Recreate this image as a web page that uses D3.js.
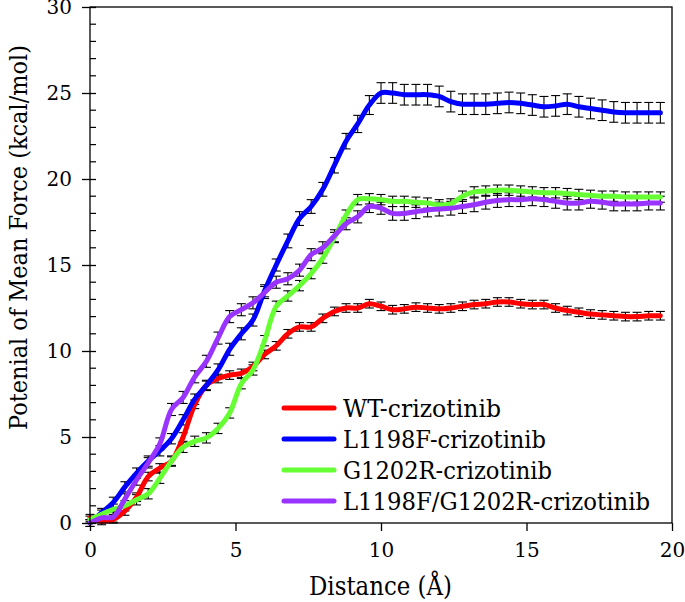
<!DOCTYPE html>
<html><head><meta charset="utf-8">
<script src="https://cdn.jsdelivr.net/npm/d3@7"></script>
<style>body{margin:0;background:#fff}svg{display:block}</style>
</head><body><svg id="c" width="685" height="602"></svg>
<script>
const distance = [0,0.4,0.8,1.2,1.6,2.0,2.4,2.8,3.2,3.6,4.0,4.4,4.8,5.2,5.6,6.0,6.4,6.8,7.2,7.6,8.0,8.4,8.8,9.2,9.6,10.0,10.4,10.8,11.2,11.6,12.0,12.4,12.8,13.2,13.6,14.0,14.4,14.8,15.2,15.6,16.0,16.4,16.8,17.2,17.6,18.0,18.4,18.8,19.2,19.6];
const seriesNames = ["WT-crizotinib","L1198F-crizotinib","G1202R-crizotinib","L1198F/G1202R-crizotinib"];
const seriesColors = ["#ff0000","#0000ff","#66ff33","#9933ff"];
const wt = [0.3,0.1,0.2,0.7,1.5,2.7,3.2,3.6,5.0,6.9,8.0,8.4,8.6,8.7,9.1,9.8,10.3,11.0,11.4,11.4,11.9,12.3,12.5,12.5,12.75,12.6,12.4,12.45,12.55,12.5,12.45,12.5,12.6,12.7,12.75,12.85,12.85,12.75,12.7,12.7,12.5,12.35,12.25,12.15,12.1,12.05,12.0,12.0,12.05,12.05];
const l1198f = [0.0,0.6,1.2,2.1,2.9,3.6,4.2,4.9,6.0,7.2,8.0,8.9,10.1,11.0,11.8,13.5,15.0,16.4,17.7,18.4,19.4,20.8,22.2,23.2,24.3,25.0,25.0,24.9,24.9,24.9,24.8,24.5,24.35,24.35,24.35,24.4,24.45,24.4,24.3,24.2,24.25,24.35,24.2,24.1,24.0,23.9,23.85,23.85,23.85,23.85];
const g1202r = [0.2,0.5,0.8,1.0,1.35,1.7,2.6,3.6,4.4,4.75,4.95,5.5,6.4,8.1,8.9,10.6,12.6,13.2,13.8,14.5,15.4,16.6,17.9,18.8,18.85,18.8,18.7,18.7,18.65,18.6,18.5,18.55,19.0,19.25,19.3,19.35,19.35,19.3,19.25,19.2,19.2,19.15,19.1,19.05,19.0,19.0,18.95,18.95,18.95,18.95];
const double = [0.0,0.3,0.35,1.4,2.5,3.5,4.6,6.6,7.3,8.5,9.4,10.75,12.0,12.4,12.8,13.4,14.0,14.2,14.7,15.6,16.0,16.7,17.4,17.8,18.4,18.3,18.0,18.0,18.1,18.2,18.25,18.3,18.4,18.5,18.65,18.75,18.8,18.8,18.85,18.8,18.7,18.6,18.6,18.7,18.65,18.55,18.55,18.55,18.6,18.6];
const wtErr = [0.2,0.2,0.2,0.25,0.25,0.25,0.25,0.25,0.25,0.25,0.25,0.25,0.25,0.25,0.25,0.25,0.25,0.25,0.25,0.25,0.25,0.25,0.25,0.25,0.25,0.25,0.25,0.25,0.25,0.25,0.25,0.25,0.25,0.25,0.25,0.25,0.25,0.25,0.25,0.25,0.25,0.25,0.25,0.25,0.25,0.25,0.25,0.25,0.25,0.25];
const l1198fErr = [0.2,0.25,0.3,0.3,0.3,0.3,0.3,0.3,0.3,0.3,0.3,0.35,0.35,0.35,0.35,0.35,0.35,0.4,0.4,0.4,0.4,0.45,0.45,0.5,0.55,0.6,0.6,0.6,0.6,0.6,0.6,0.6,0.6,0.6,0.6,0.6,0.6,0.6,0.6,0.6,0.6,0.6,0.6,0.6,0.6,0.6,0.6,0.6,0.6,0.6];
const g1202rErr = [0.2,0.25,0.3,0.3,0.3,0.3,0.3,0.3,0.3,0.3,0.3,0.3,0.3,0.3,0.3,0.3,0.3,0.3,0.3,0.3,0.3,0.3,0.3,0.3,0.3,0.3,0.3,0.3,0.3,0.3,0.3,0.3,0.3,0.3,0.3,0.3,0.3,0.3,0.3,0.3,0.3,0.3,0.3,0.3,0.3,0.3,0.3,0.3,0.3,0.3];
const doubleErr = [0.2,0.25,0.3,0.3,0.3,0.3,0.35,0.35,0.35,0.35,0.35,0.35,0.35,0.35,0.35,0.35,0.35,0.35,0.35,0.35,0.35,0.35,0.35,0.35,0.35,0.35,0.4,0.4,0.4,0.4,0.4,0.4,0.4,0.4,0.4,0.4,0.4,0.4,0.4,0.4,0.4,0.4,0.4,0.4,0.4,0.4,0.4,0.4,0.4,0.4];
const xTicks = [0,5,10,15,20];
const yTicks = [0,5,10,15,20,25,30];
const yMinorTicks = [1,2,3,4,6,7,8,9,11,12,13,14,16,17,18,19,21,22,23,24,26,27,28,29];
const xTitle = "Distance (Å)";
const yTitle = "Potenial of Mean Force (kcal/mol)";

const values = [wt, l1198f, g1202r, double];
const errors = [wtErr, l1198fErr, g1202rErr, doubleErr];
const FONT = "DejaVu Serif";
const legendWidths = [158, 203, 209, 307];

const svg = d3.select("#c");
const L = 90, R = 672, T = 7, B = 523;
const x = d3.scaleLinear().domain([0,20]).range([L,R]);
const y = d3.scaleLinear().domain([0,30]).range([B,T]);

const eb = svg.append("g").attr("stroke","#000").attr("stroke-width",1.1).attr("fill","none");
values.forEach((vals, s) => {
  vals.forEach((v, i) => {
    const d = distance[i], e = errors[s][i];
    const cx = x(d);
    eb.append("line").attr("x1",cx).attr("x2",cx).attr("y1",y(v-e)).attr("y2",y(v+e));
    eb.append("line").attr("x1",cx-4.5).attr("x2",cx+4.5).attr("y1",y(v-e)).attr("y2",y(v-e));
    eb.append("line").attr("x1",cx-4.5).attr("x2",cx+4.5).attr("y1",y(v+e)).attr("y2",y(v+e));
  });
});

const line = d3.line().x((d,i)=>x(distance[i])).y(d=>y(d)).curve(d3.curveCatmullRom.alpha(0.5));
values.forEach((vals, s) => {
  svg.append("path").datum(vals).attr("d", line).attr("fill","none")
    .attr("stroke", seriesColors[s]).attr("stroke-width",5).attr("stroke-linejoin","round").attr("stroke-linecap","round");
});

svg.append("rect").attr("x",L).attr("y",T).attr("width",R-L).attr("height",B-T)
  .attr("fill","none").attr("stroke","#000").attr("stroke-width",1.3);

const yAxis = svg.append("g").attr("transform",`translate(${L},0)`)
  .call(d3.axisLeft(y).tickValues(yTicks).tickSize(8).tickPadding(10).tickFormat(d3.format("d")));
yAxis.attr("font-family", FONT);
yAxis.select(".domain").remove();
yAxis.selectAll(".tick line").attr("x2",-8).attr("x1",6).attr("stroke-width",1.3);
yAxis.selectAll(".tick text").attr("font-size",20).attr("x",-18);
svg.append("g").selectAll("line").data(yMinorTicks).join("line")
  .attr("x1",L).attr("x2",L+6).attr("y1",d=>y(d)).attr("y2",d=>y(d)).attr("stroke","#000").attr("stroke-width",1.2);

const xAxis = svg.append("g").attr("transform",`translate(0,${B})`)
  .call(d3.axisBottom(x).tickValues(xTicks).tickSize(8).tickPadding(12).tickFormat(d3.format("d")));
xAxis.attr("font-family", FONT);
xAxis.select(".domain").remove();
xAxis.selectAll(".tick line").attr("stroke-width",1.3);
xAxis.selectAll(".tick text").attr("font-size",20);

svg.append("text").attr("x",309).attr("y",595).attr("font-size",26).attr("font-family",FONT)
  .attr("textLength",143).attr("lengthAdjust","spacingAndGlyphs").text(xTitle);
svg.append("text").attr("transform","translate(27,430) rotate(-90)").attr("font-size",25).attr("font-family",FONT)
  .attr("textLength",385).attr("lengthAdjust","spacingAndGlyphs").text(yTitle);

const lg = svg.append("g");
seriesNames.forEach((n, i) => {
  const yy = 408 + i*31;
  lg.append("line").attr("x1",284).attr("x2",334).attr("y1",yy).attr("y2",yy)
    .attr("stroke",seriesColors[i]).attr("stroke-width",5).attr("stroke-linecap","round");
  lg.append("text").attr("x",343).attr("y",yy+9).attr("font-size",25).attr("font-family",FONT)
    .attr("textLength",legendWidths[i]).attr("lengthAdjust","spacingAndGlyphs").text(n);
});
</script></body></html>
